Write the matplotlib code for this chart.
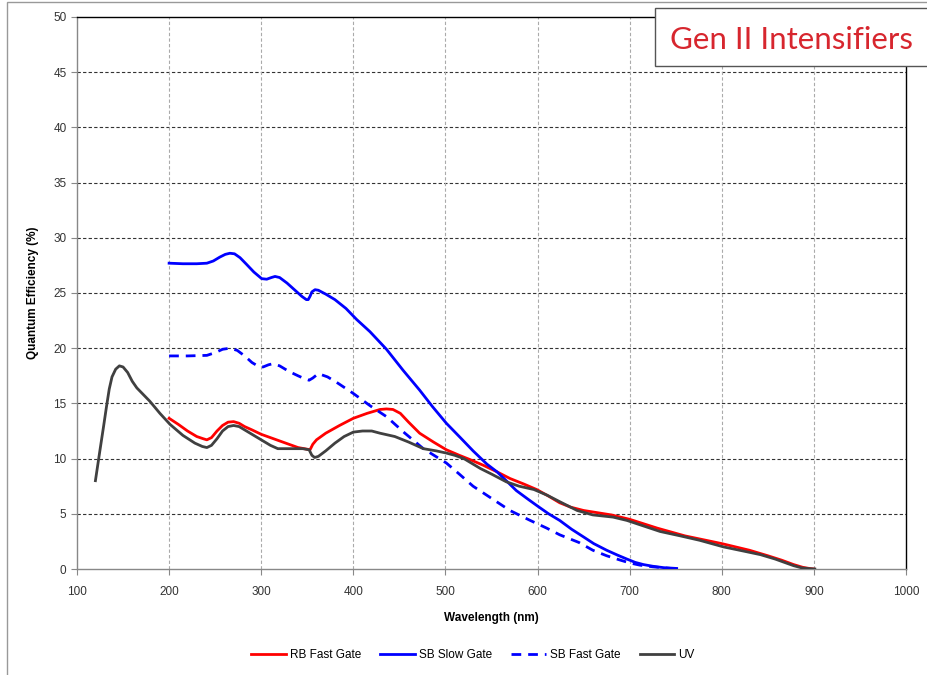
import matplotlib
matplotlib.use("Agg")
import matplotlib.pyplot as plt
from matplotlib.patches import Rectangle

plt.rcParams['font.family'] = ['Liberation Sans', 'DejaVu Sans']

# UV
uv_wl = [120, 125, 129, 132, 135, 138, 142, 146, 150, 155, 160, 165, 172, 179, 190, 201, 215, 228, 236, 241,
         246, 252, 258, 264, 270, 276, 282, 290, 300, 310, 318, 325, 335, 345, 352, 355, 358, 362, 370,
         380, 390, 400, 410, 420, 429, 445, 460, 476, 490, 501, 510, 520, 530, 538, 550, 566, 580, 596,
         610, 624, 643, 660, 682, 697, 715, 733, 755, 776, 802, 825, 842, 858, 868, 878, 887, 895, 901]
uv_qe = [8.0, 10.8, 13.0, 14.7, 16.3, 17.4, 18.1, 18.4, 18.3, 17.8, 17.0, 16.4, 15.8, 15.2, 14.1, 13.1, 12.1, 11.4, 11.1, 11.0,
         11.2, 11.8, 12.5, 12.9, 13.0, 12.9, 12.6, 12.2, 11.7, 11.2, 10.9, 10.9, 10.9, 10.9, 10.8, 10.3, 10.1, 10.2, 10.7,
         11.4, 12.0, 12.4, 12.5, 12.5, 12.3, 12.0, 11.5, 10.9, 10.7, 10.5, 10.3, 10.0, 9.5, 9.1, 8.6, 7.9, 7.5, 7.2,
         6.7, 6.1, 5.3, 4.9, 4.7, 4.4, 3.9, 3.4, 3.0, 2.6, 2.0, 1.6, 1.3, 0.9, 0.6, 0.3, 0.1, 0.03, 0.0]

# RB Fast Gate
rb_wl = [200, 210, 220, 230, 237, 241, 246, 252, 258, 264, 270, 276, 282, 290, 300, 320, 340, 350, 353,
         356, 360, 370, 385, 400, 415, 429, 436, 443, 451, 460, 472, 487, 501, 515, 527, 541, 556, 570,
         585, 599, 612, 624, 636, 650, 665, 680, 700, 730, 760, 800, 830, 850, 865, 878, 888, 895, 900]
rb_qe = [13.65, 13.1, 12.5, 12.0, 11.8, 11.7, 11.9, 12.5, 13.0, 13.3, 13.35, 13.2, 12.9, 12.6, 12.2, 11.6, 11.0, 10.85, 10.8,
         11.3, 11.7, 12.3, 13.0, 13.65, 14.1, 14.45, 14.5, 14.45, 14.1, 13.3, 12.3, 11.5, 10.8, 10.3, 9.9, 9.4, 8.8, 8.2,
         7.7, 7.2, 6.6, 6.0, 5.6, 5.3, 5.1, 4.9, 4.5, 3.7, 3.0, 2.3, 1.7, 1.2, 0.8, 0.4, 0.15, 0.05, 0.0]

# SB Slow Gate
ss_wl = [200, 215, 230, 241, 248, 255, 261, 266, 271, 277, 284, 292, 300.5, 306, 311, 315, 320, 328, 336,
         344, 349, 351, 353, 355, 358.4, 362, 370, 380, 392, 403.6, 418, 436, 454, 472, 486, 501, 515,
         530, 545, 556, 566, 577, 590, 600, 612, 624, 637, 650, 661, 675, 687, 697, 706, 715, 725, 737, 751]
ss_qe = [27.7, 27.65, 27.65, 27.7, 27.9, 28.25, 28.5, 28.6, 28.55, 28.2, 27.6, 26.9, 26.3, 26.25, 26.4, 26.5, 26.4, 25.9, 25.3,
         24.7, 24.4, 24.4, 24.7, 25.1, 25.3, 25.25, 24.9, 24.4, 23.6, 22.6, 21.5, 19.9, 18.0, 16.2, 14.7, 13.2, 12.0,
         10.7, 9.5, 8.8, 8.0, 7.1, 6.3, 5.7, 5.0, 4.4, 3.6, 2.9, 2.3, 1.7, 1.25, 0.9, 0.6, 0.4, 0.25, 0.12, 0.05]

# SB Fast Gate
sf_wl = [200, 220, 241, 250, 258, 266, 274, 282, 290, 297, 302, 308, 313, 320, 330, 340, 348, 352, 356,
         362, 372, 382, 400, 418, 436, 456, 476, 501, 515, 530, 550, 570, 592, 610, 624, 645, 660,
         675, 690, 700, 711, 725, 738, 745]
sf_qe = [19.3, 19.3, 19.35, 19.6, 19.9, 20.0, 19.8, 19.3, 18.7, 18.35, 18.3, 18.5, 18.6, 18.4, 17.9, 17.5, 17.2, 17.1, 17.3,
         17.7, 17.4, 16.9, 15.9, 14.8, 13.8, 12.3, 10.9, 9.6, 8.6, 7.5, 6.4, 5.3, 4.4, 3.7, 3.1, 2.4, 1.7,
         1.2, 0.8, 0.55, 0.35, 0.2, 0.1, 0.05]

x_ticks = [100, 200, 300, 400, 500, 600, 700, 800, 900, 1000]
y_ticks = [0, 5, 10, 15, 20, 25, 30, 35, 40, 45, 50]

fig = plt.figure(figsize=(9.27, 6.75), dpi=100)
ax = fig.add_axes([77/927, 1-569/675, (906-77)/927, (569-17)/675])

lw = 2.0
ax.plot(rb_wl, rb_qe, color='#ff0000', lw=lw, label='RB Fast Gate', zorder=3, solid_joinstyle='round')
ax.plot(ss_wl, ss_qe, color='#0000ff', lw=lw, label='SB Slow Gate', zorder=3, solid_joinstyle='round')
ax.plot(sf_wl, sf_qe, color='#0000ff', lw=lw, ls=(0, (3.5, 2.5)), label='SB Fast Gate', zorder=3)
ax.plot(uv_wl, uv_qe, color='#404040', lw=lw, label='UV', zorder=4, solid_joinstyle='round')

ax.set_xlim(100, 1000)
ax.set_ylim(0, 50)
ax.set_xticks(x_ticks)
ax.set_yticks(y_ticks)
ax.tick_params(axis='both', labelsize=8.5, labelcolor='#333333', color='#888888', length=4, width=0.8, direction='out')
ax.tick_params(axis='x', pad=8)

for y in y_ticks[1:-1]:
    ax.axhline(y, color='#333333', lw=0.8, ls=(0, (3, 2)), zorder=1)
for x in x_ticks[1:-1]:
    ax.axvline(x, color='#aaaaaa', lw=0.8, ls=(0, (3, 2)), zorder=1)

ax.spines['left'].set_color('#888888')
ax.spines['bottom'].set_color('#888888')
ax.spines['top'].set_color('#000000')
ax.spines['right'].set_color('#000000')
for s in ax.spines.values():
    s.set_linewidth(1.0)

ax.set_xlabel('Wavelength (nm)', fontsize=8.5, fontweight='bold', labelpad=10)
ax.set_ylabel('Quantum Efficiency (%)', fontsize=8.5, fontweight='bold', labelpad=10)

fig.legend(loc='center', bbox_to_anchor=(473/927, 1-655/675), ncol=4, frameon=False,
           fontsize=8.5, handlelength=2.95, columnspacing=1.6, handletextpad=0.35)

# figure border
fig.patches.append(Rectangle((7/927, -0.05), 1.1, 1-2/675+0.05, transform=fig.transFigure,
                             fill=False, edgecolor='#999999', lw=1.0, clip_on=False))

# title box
fig.patches.append(Rectangle((655/927, 1-66/675), 0.4, 58/675, transform=fig.transFigure,
                             facecolor='white', edgecolor='#555555', lw=1.0, zorder=5, clip_on=False))
fig.text(791/927, 1-40/675, 'Gen II Intensifiers', color='#d7262e', fontsize=22.5,
         family=['Lato', 'DejaVu Sans'], ha='center', va='center', zorder=6)

fig.savefig('out.png', dpi=100)
